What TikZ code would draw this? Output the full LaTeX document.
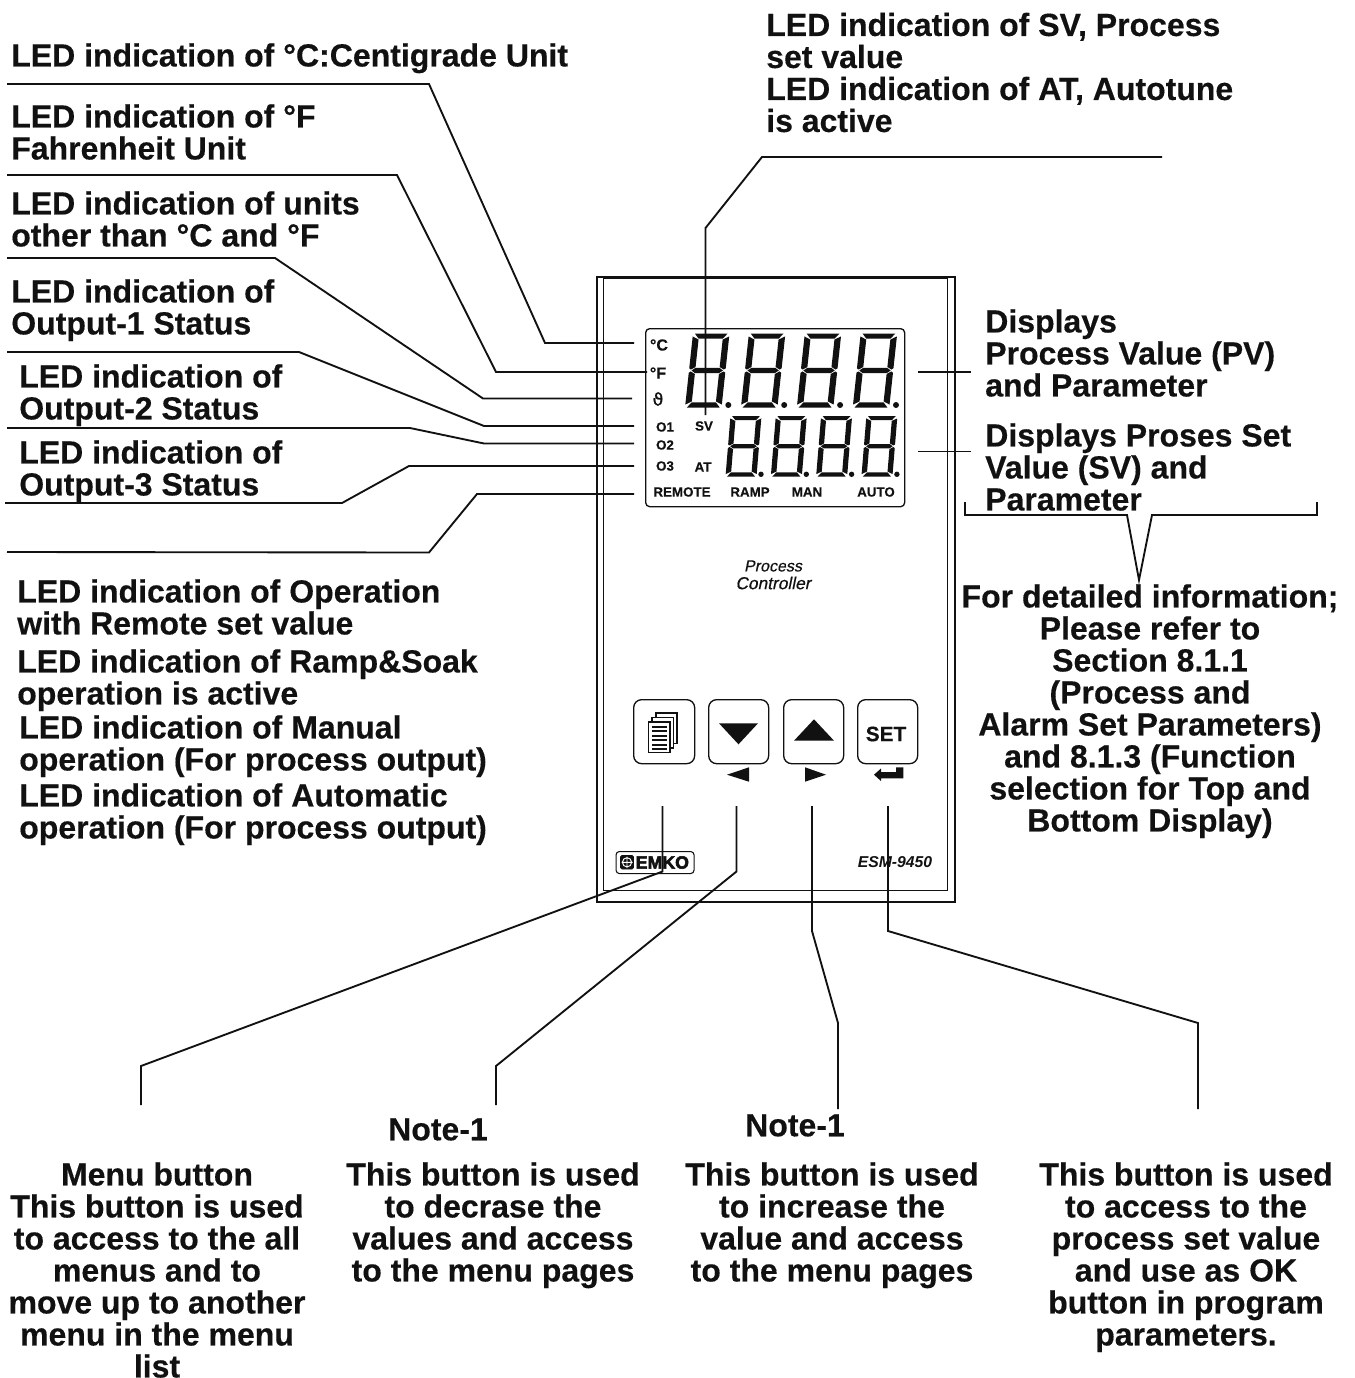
\documentclass[tikz,border=0pt]{standalone}
\usepackage{fontspec}
\setmainfont{Liberation Sans}[BoldFeatures={FakeBold=0.35}]
\newfontfamily\logofont[FakeBold=3]{Liberation Sans Bold}
\newfontfamily\procfont[FakeBold=0.4,FakeSlant=0.2]{Liberation Sans}
\newfontfamily\thetafont[FakeBold=1]{DejaVu Sans}
\newcommand{\mainlbl}{\fontsize{24pt}{24pt}\selectfont\bfseries}
\definecolor{ink}{HTML}{111111}
\tikzset{
  lbl/.style={font=\mainlbl,text=ink,inner sep=0pt,align=left,anchor=north west},
  clbl/.style={font=\mainlbl,text=ink,inner sep=0pt,align=center,anchor=north},
  leader/.style={draw=ink,line width=1.4pt,line join=miter},
  btn/.style={draw=ink,line width=1pt,rounded corners=6pt},
  lcdtxt/.style={font=\fontsize{10pt}{10pt}\selectfont\bfseries,text=ink,inner sep=0pt,anchor=center}
}
% x y width height slant thicknessx thicknessy
\newcommand{\sevseg}[7]{%
\begin{scope}[shift={(#1,#2)},x={(#3*0.75pt,0pt)},y={(-#5*0.75pt,-#4*0.75pt)}]
\def\aa{#6}\def\bb{#7}
\fill[ink] (0.05,0)--(0.95,0)--({1-\aa},\bb)--(\aa,\bb)--cycle;
\fill[ink] (1,0.04)--(1,0.47)--(0.95,0.487)--({1-\aa},{0.5-\bb/2-0.012})--({1-\aa},{\bb+0.012})--cycle;
\fill[ink] (0,0.04)--(0,0.47)--(0.05,0.487)--(\aa,{0.5-\bb/2-0.012})--(\aa,{\bb+0.012})--cycle;
\fill[ink] (0.07,0.5)--(\aa,{0.5-\bb/2})--({1-\aa},{0.5-\bb/2})--(0.93,0.5)--({1-\aa},{0.5+\bb/2})--(\aa,{0.5+\bb/2})--cycle;
\fill[ink] (0,0.53)--(0,0.96)--(\aa,{1-\bb-0.012})--(\aa,{0.5+\bb/2+0.012})--(0.05,0.513)--cycle;
\fill[ink] (1,0.53)--(1,0.96)--({1-\aa},{1-\bb-0.012})--({1-\aa},{0.5+\bb/2+0.012})--(0.95,0.513)--cycle;
\fill[ink] (0.05,1)--(0.95,1)--({1-\aa},{1-\bb})--(\aa,{1-\bb})--cycle;
\end{scope}}
\begin{document}
\begin{tikzpicture}[x=0.75pt,y=-0.75pt]
\useasboundingbox (0,0) rectangle (1354,1378);
\fill[white] (0,0) rectangle (1354,1378);

% housing
\node[draw=ink,line width=1.4pt,minimum width=358*0.75pt,minimum height=625*0.75pt,inner sep=0pt,anchor=north west] (outer) at (596,276) {};
\node[draw=ink,line width=1.1pt,minimum width=344*0.75pt,minimum height=612*0.75pt,inner sep=0pt,anchor=north west] (inner) at (603,278) {};
\node[draw=ink,line width=1pt,rounded corners=3pt,minimum width=259*0.75pt,minimum height=178*0.75pt,inner sep=0pt,anchor=north west] (lcd) at (645,328) {};

% digits
\foreach \i in {0,1,2,3} {
  \sevseg{693+55.9*\i}{333.5}{36.5}{74}{8}{0.17}{0.07}
  \fill[ink] ({728.3+55.9*\i},405) circle[radius=3];
  \sevseg{730.5+45.3*\i}{416}{31}{60.5}{5}{0.17}{0.07}
  \fill[ink] ({761+45.3*\i},474.3) circle[radius=2.7];
}

% lcd labels
\node[lcdtxt,font=\fontsize{12pt}{12pt}\selectfont\bfseries] (tc) at (659,345) {°C};
\node[lcdtxt,font=\fontsize{12pt}{12pt}\selectfont\bfseries] (tf) at (658,373) {°F};
\node[lcdtxt,font=\fontsize{13pt}{13pt}\thetafont] (tu) at (658,399) {ϑ};
\node[lcdtxt] (to1) at (665,427) {O1};
\node[lcdtxt] (to2) at (665,445) {O2};
\node[lcdtxt] (to3) at (665,466) {O3};
\node[lcdtxt] (tsv) at (704,426) {SV};
\node[lcdtxt] (tat) at (703,467) {AT};
\node[lcdtxt] (trem) at (682,492) {REMOTE};
\node[lcdtxt] (tramp) at (750,492) {RAMP};
\node[lcdtxt] (tman) at (807,492) {MAN};
\node[lcdtxt] (tauto) at (876,492) {AUTO};

% process controller
\node[inner sep=0pt,text=ink,font=\fontsize{12pt}{12pt}\procfont] (proc) at (773,566) {Process};
\node[inner sep=0pt,text=ink,font=\fontsize{13pt}{13pt}\procfont] (cont) at (773,583) {Controller};

% buttons
\node[btn,minimum width=61*0.75pt,minimum height=64*0.75pt,inner sep=0pt,anchor=north west] (bmenu) at (633,699) {};
\node[btn,minimum width=60*0.75pt,minimum height=64*0.75pt,inner sep=0pt,anchor=north west] (bdown) at (708,699) {};
\node[btn,minimum width=60*0.75pt,minimum height=64*0.75pt,inner sep=0pt,anchor=north west] (bup) at (783,699) {};
\node[btn,minimum width=60*0.75pt,minimum height=64*0.75pt,inner sep=0pt,anchor=north west] (bset) at (857,699) {};
\node[inner sep=0pt,text=ink,font=\fontsize{15.6pt}{16pt}\selectfont\bfseries] (settxt) at (886,734) {SET};

% page icon
\foreach \dx/\dy in {7.3/-9,3.6/-4.5,0/0} {
  \filldraw[fill=white,draw=ink,line width=1.3pt] ({648.5+\dx},{722+\dy}) rectangle ++(21.5,30.5);
}
\foreach \yy in {726.5,731,735.5,740,744.5,749} {
  \draw[ink,line width=1.5pt] (652,\yy) -- (667,\yy);
}

% triangles
\fill[ink] (719,723.3)--(758,723.3)--(738.5,744.3)--cycle;
\fill[ink] (814,719.3)--(794,740.7)--(834,740.7)--cycle;
\fill[ink] (727,774.7)--(749,767.3)--(749,781.7)--cycle;
\fill[ink] (826,774.7)--(805,767.3)--(805,781.7)--cycle;
\fill[ink] (874,774.7)--(881,768.5)--(881,772)--(896,772)--(896,767.3)--(903.3,767.3)--(903.3,778.3)--(881,778.3)--(881,781)--cycle;

% logo
\node[draw=ink,line width=0.8pt,rounded corners=2.5pt,minimum width=78*0.75pt,minimum height=22*0.75pt,inner sep=0pt,anchor=north west] (logo) at (615.5,851) {};
\node[inner sep=0pt,anchor=west,text=ink,font=\fontsize{13.3pt}{13pt}\logofont] (logot) at (635.5,862.5) {EMKO};
\filldraw[fill=ink,draw=ink,rounded corners=1pt] (620.5,855.5) rectangle (633.5,869);
\draw[white,line width=0.7pt] (627,862.3) circle[radius=4.6] (627,856.5)--(627,868) (621.5,862.3)--(632.5,862.3);

\node[inner sep=0pt,text=ink,font=\fontsize{11.8pt}{12pt}\selectfont\bfseries\itshape] (esm) at (895,862) {ESM-9450};

% leader end points
\coordinate (ac) at (634,343);  \coordinate (sc) at (7,84);
\coordinate (af) at (647,372);  \coordinate (sf) at (7,175);
\coordinate (au) at (632,398.5);\coordinate (su) at (7,258);
\coordinate (ao1) at (634,426); \coordinate (so1) at (7,352);
\coordinate (ao2) at (634,443.5);\coordinate (so2) at (7,428);
\coordinate (ao3) at (634,466); \coordinate (so3) at (5,503);
\coordinate (arem) at (634,494);\coordinate (srem) at (7,552);
\coordinate (asv) at (705.5,415);\coordinate (ssv) at (1162,157);
\coordinate (apv) at (918,372); \coordinate (spv) at (971,372);
\coordinate (asv2) at (918,451.5);\coordinate (ssv2) at (971,451.5);
\coordinate (am) at (662.5,806);\coordinate (em) at (141,1105);
\coordinate (ad) at (736.5,806);\coordinate (ed) at (496,1105);
\coordinate (aup) at (812,806);\coordinate (eup) at (838,1109);
\coordinate (as) at (888,806);\coordinate (es) at (1198,1109);
\coordinate (bl) at (965,502);\coordinate (br) at (1317,502);\coordinate (btip) at (1139,580);

\draw[leader] (sc)--(429,84)--(545,343)--(ac);
\draw[leader] (sf)--(397,175)--(496,372)--(af);
\draw[leader] (su)--(275,258)--(483,398.5)--(au);
\draw[leader] (so1)--(299,352)--(484,426)--(ao1);
\draw[leader] (so2)--(410,428)--(484,443.5)--(ao2);
\draw[leader] (so3)--(342,503)--(409,466)--(ao3);
\draw[leader] (srem)--(429,552.5)--(477,494)--(arem);
\draw[leader] (ssv)--(762,157)--(705.5,228)--(asv);
\draw[leader] (apv)--(spv);
\draw[leader] (asv2)--(ssv2);
\draw[leader] (am)--(662.5,871.5)--(141,1066)--(em);
\draw[leader] (ad)--(736.5,871.5)--(496,1066)--(ed);
\draw[leader] (aup)--(812,931)--(838,1023)--(eup);
\draw[leader] (as)--(888,931)--(1198,1023)--(es);
\draw[leader] (bl)--(965,515)--(1127,515)--(btip)--(1152,515)--(1317,515)--(br);

% left labels
\node[lbl] (n1) at (11,43) {LED indication of °C:Centigrade Unit};
\node[lbl] (n2) at (11,104) {LED indication of °F\\Fahrenheit Unit};
\node[lbl] (n3) at (11,191) {LED indication of units\\other than °C and °F};
\node[lbl] (n4) at (11,279) {LED indication of\\Output-1 Status};
\node[lbl] (n5) at (19,364) {LED indication of\\Output-2 Status};
\node[lbl] (n6) at (19,440) {LED indication of\\Output-3 Status};
\node[lbl] (n7) at (17,579) {LED indication of Operation\\with Remote set value};
\node[lbl] (n8) at (17,649) {LED indication of Ramp\&Soak\\operation is active};
\node[lbl] (n9) at (19,715) {LED indication of Manual\\operation (For process output)};
\node[lbl] (n10) at (19,783) {LED indication of Automatic\\operation (For process output)};
% right labels
\node[lbl] (r1) at (766,12.5) {LED indication of SV, Process\\set value\\LED indication of AT, Autotune\\is active};
\node[lbl] (r2) at (985,309) {Displays\\Process Value (PV)\\and Parameter};
\node[lbl] (r3) at (985,423) {Displays Proses Set\\Value (SV) and\\Parameter};
\node[clbl] (r4) at (1150,584) {For detailed information;\\Please refer to\\Section 8.1.1\\(Process and\\Alarm Set Parameters)\\and 8.1.3 (Function\\selection for Top and\\Bottom Display)};
% bottom labels
\node[clbl] (note1) at (438,1118) {Note-1};
\node[clbl] (note2) at (795,1114) {Note-1};
\node[clbl] (b1) at (157,1162) {Menu button\\This button is used\\to access to the all\\menus and to\\move up to another\\menu in the menu\\list};
\node[clbl] (b2) at (493,1162) {This button is used\\to decrase the\\values and access\\to the menu pages};
\node[clbl] (b3) at (832,1162) {This button is used\\to increase the\\value and access\\to the menu pages};
\node[clbl] (b4) at (1186,1162) {This button is used\\to access to the\\process set value\\and use as OK\\button in program\\parameters.};
\end{tikzpicture}
\end{document}
